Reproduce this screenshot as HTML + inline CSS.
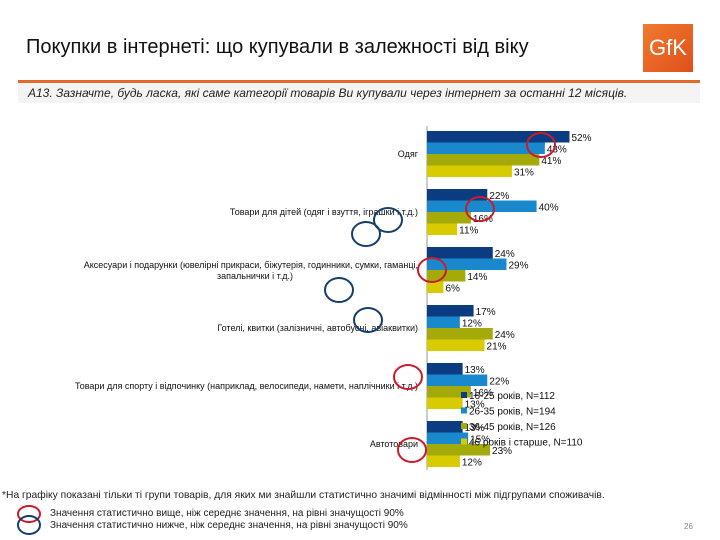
<!DOCTYPE html>
<html><head><meta charset="utf-8"><style>
body{margin:0;width:720px;height:540px;background:#fff;font-family:"Liberation Sans",sans-serif;position:relative;overflow:hidden}
.a{position:absolute;white-space:nowrap}
</style></head><body>
<div class="a" style="left:26px;top:36px;font-size:20px;color:#111">Покупки в інтернеті: що купували в залежності від віку</div>
<div class="a" style="left:643px;top:24px;width:50px;height:48px;background:linear-gradient(135deg,#f07a30,#e0501a);color:#fff;font-size:22px;text-align:center;line-height:48px">GfK</div>
<div class="a" style="left:18px;top:80px;width:682px;height:3px;background:#e06a2a"></div>
<div class="a" style="left:18px;top:83px;width:682px;height:20px;background:#f4f4f4"></div>
<div class="a" style="left:28px;top:86px;font-size:12px;font-style:italic;color:#222">А13. Зазначте, будь ласка, які саме категорії товарів Ви купували через інтернет за останні 12 місяців.</div>
<svg class="a" style="left:0;top:0" width="720" height="540" id="chart"></svg>
<div class="a" style="left:2px;top:490px;font-size:10.3px;color:#222">*На графіку показані тільки ті групи товарів, для яких ми знайшли статистично значимі відмінності між підгрупами споживачів.</div>
<div class="a" style="left:50px;top:508px;font-size:10px;color:#222">Значення статистично вище, ніж середнє значення, на рівні значущості 90%</div>
<div class="a" style="left:50px;top:520px;font-size:10px;color:#222">Значення статистично нижче, ніж середнє значення, на рівні значущості 90%</div>
<div class="a" style="left:684px;top:522px;font-size:8px;color:#888">26</div>
<script>
const categories=["Одяг","Товари для дітей (одяг і взуття, іграшки і т.д.)","Аксесуари і подарунки (ювелірні прикраси, біжутерія, годинники, сумки, гаманці,|запальнички і т.д.)","Готелі, квитки (залізничні, автобусні, авіаквитки)","Товари для спорту і відпочинку (наприклад, велосипеди, намети, наплічники і т.д.)","Автотовари"];
const s1=[52,22,24,17,13,13];
const s2=[43,40,29,12,22,15];
const s3=[41,16,14,24,16,23];
const s4=[31,11,6,21,13,12];
const seriesNames=["16-25 років, N=112","26-35 років, N=194","36-45 років, N=126","46 років і старше, N=110"];
const colors=["#0b3c82","#1a88cc","#a3aa0a","#d8cc00"];
const series=[s1,s2,s3,s4];
const NS="http://www.w3.org/2000/svg";
const svg=document.getElementById('chart');
const x0=427,kx=2.74,gTop=131,gStep=58,bh=11.5;
const X=v=>x0+v*kx;
function mk(t,a){const e=document.createElementNS(NS,t);for(const k in a)e.setAttribute(k,a[k]);svg.appendChild(e);return e;}
let ax=mk('line',{x1:x0,y1:126,x2:x0,y2:470,stroke:'#999','stroke-width':1});


categories.forEach((c,i)=>{
  const gy=gTop+i*gStep;
  series.forEach((s,j)=>{
    const y=gy+j*bh;
    const r=mk('rect',{x:x0,y:y,width:X(s[i])-x0,height:bh,fill:colors[j]});
    
    
    const t=mk('text',{x:X(s[i])+2,y:y+10,'font-size':10,fill:'#111'});
    t.textContent=s[i]+'%';
    
    
  });
  const lines=c.split('|');
  const cy=gy+2*bh;
  lines.forEach((ln,k)=>{
    const second=k>0;
    const t=mk('text',{x:second?255:418,y:cy+3-(lines.length-1)*5+k*11,'font-size':9,'text-anchor':second?'middle':'end',fill:'#111'});
    t.textContent=ln;
    
    
  });
});
seriesNames.forEach((n,j)=>{
  const y=398+j*15.5;
  const r=mk('rect',{x:461,y:y-6,width:6,height:6,fill:colors[j]});
  
  
  const t=mk('text',{x:469,y:y+1,'font-size':10,fill:'#111'});
  t.textContent=n;
  
  
});
const marks=[[541,145,'#cc1c2c'],[480,209,'#cc1c2c'],[432,270,'#cc1c2c'],[408,377,'#cc1c2c'],[412,450,'#cc1c2c'],[388,220,'#153f6a'],[366,234,'#153f6a'],[339,290,'#153f6a'],[368,320,'#153f6a']];
marks.forEach(m=>{
  const e=mk('ellipse',{cx:m[0],cy:m[1],rx:14,ry:12,fill:'none',stroke:m[2],'stroke-width':2});
  
  
});
const l1=mk('ellipse',{cx:29,cy:514,rx:11,ry:8,fill:'none',stroke:'#cc1c2c','stroke-width':2});


const l2=mk('ellipse',{cx:29,cy:525,rx:11,ry:9,fill:'none',stroke:'#153f6a','stroke-width':2});


</script>
</body></html>
